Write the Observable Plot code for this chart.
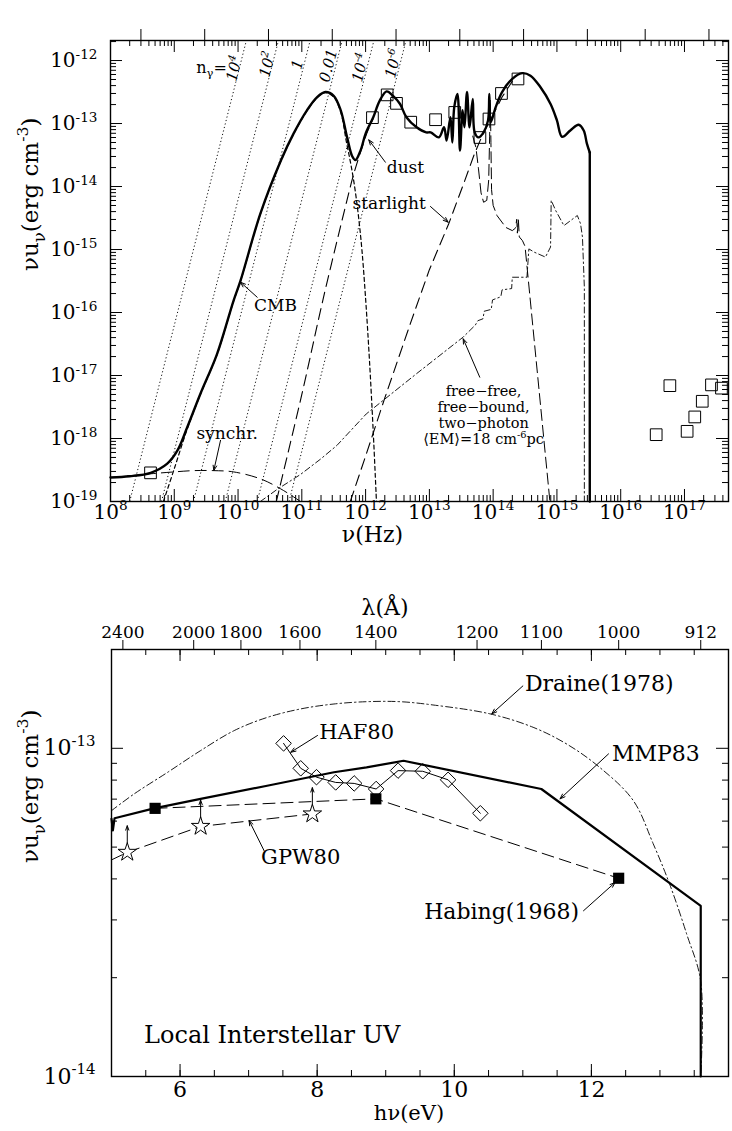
<!DOCTYPE html>
<html>
<head>
<meta charset="utf-8">
<script src="https://cdn.jsdelivr.net/npm/d3@7"></script>
<script src="https://cdn.jsdelivr.net/npm/@observablehq/plot@0.6"></script>
<style>
  html, body { margin: 0; padding: 0; background: #fff; }
  #chart svg { display: block; }
</style>
</head>
<body>
<div id="chart"></div>
<script>
// ================= TOP PANEL: interstellar radiation field =================
// pairs are [log10 ν (Hz), log10 νuν (erg cm^-3)]
const totalLog = [[8.00,-18.62],[8.30,-18.60],[8.63,-18.545],[8.89,-18.40],[9.05,-18.19],[9.20,-17.83],[9.41,-17.29],[9.67,-16.66],[9.93,-15.81],[10.04,-15.49],[10.35,-14.43],[10.67,-13.59],[10.87,-13.16],[11.08,-12.79],[11.24,-12.58],[11.37,-12.50],[11.50,-12.56],[11.61,-12.79],[11.71,-13.22],[11.79,-13.52],[11.84,-13.58],[11.92,-13.43],[12.00,-13.16],[12.12,-12.90],[12.22,-12.64],[12.33,-12.49],[12.43,-12.56],[12.54,-12.69],[12.64,-12.90],[12.80,-13.06],[12.95,-13.14],[13.02,-13.14],[13.15,-13.22],[13.23,-13.06],[13.27,-13.27],[13.33,-12.90],[13.36,-13.30],[13.39,-12.74],[13.44,-12.53],[13.48,-13.43],[13.52,-12.79],[13.55,-13.06],[13.59,-12.50],[13.63,-13.06],[13.68,-12.61],[13.71,-13.14],[13.77,-13.22],[13.85,-13.14],[13.92,-12.95],[13.94,-12.53],[13.96,-12.98],[14.04,-12.74],[14.14,-12.50],[14.30,-12.29],[14.455,-12.20],[14.585,-12.24],[14.74,-12.42],[14.90,-12.69],[15.00,-12.95],[15.08,-13.21],[15.21,-13.11],[15.34,-13.02],[15.42,-13.11],[15.47,-13.32],[15.515,-13.46],[15.515,-19.0]];
const cmbLog = [[8.83,-19.0],[9.00,-18.48],[9.20,-17.86],[9.41,-17.30],[9.67,-16.67],[9.93,-15.82],[10.04,-15.50],[10.35,-14.44],[10.67,-13.60],[10.87,-13.17],[11.08,-12.80],[11.24,-12.59],[11.37,-12.51],[11.50,-12.58],[11.61,-12.82],[11.70,-13.30],[11.76,-13.60],[11.82,-13.95],[11.88,-14.40],[11.94,-14.98],[12.00,-15.78],[12.06,-16.75],[12.12,-17.90],[12.17,-19.0]];
const dustRiseLog = [[10.60,-19.0],[11.00,-17.30],[11.34,-15.76],[11.70,-14.25],[11.80,-13.85],[11.88,-13.58],[11.96,-13.33],[12.04,-13.10],[12.12,-12.92]];
const dustTailLog = [[13.68,-13.20],[13.73,-13.38],[13.77,-13.72],[13.81,-14.10],[13.85,-14.25],[13.90,-14.22],[13.93,-13.90],[13.945,-13.20],[13.955,-12.62],[13.965,-13.30],[13.975,-14.05],[14.00,-14.30],[14.06,-14.46],[14.20,-14.65],[14.30,-14.70],[14.35,-14.66],[14.37,-14.52],[14.38,-14.74],[14.395,-14.52],[14.41,-14.80],[14.46,-14.86],[14.50,-14.95],[14.89,-19.0]];
const starlightLog = [[11.76,-19.0],[12.00,-18.28],[12.30,-17.36],[12.70,-16.18],[13.00,-15.32],[13.30,-14.60],[13.55,-13.92],[13.70,-13.50],[13.80,-13.26],[13.90,-13.05],[14.00,-12.86],[14.14,-12.58],[14.30,-12.33]];
const freeFreeLog = [[10.35,-19.0],[10.61,-18.81],[10.98,-18.57],[11.29,-18.33],[11.55,-18.11],[12.01,-17.61],[12.80,-16.97],[13.53,-16.39],[13.72,-16.20],[13.76,-16.13],[13.84,-16.10],[13.86,-15.98],[13.97,-15.95],[13.99,-15.80],[14.12,-15.75],[14.14,-15.64],[14.29,-15.62],[14.30,-15.44],[14.53,-15.44],[14.56,-14.99],[14.64,-15.04],[14.82,-15.12],[14.90,-14.96],[14.91,-14.22],[14.98,-14.38],[15.11,-14.62],[15.32,-14.46],[15.37,-14.59],[15.40,-14.80],[15.43,-15.60],[15.43,-19.0]];
const synchLog = [[8.00,-18.62],[8.63,-18.56],[9.00,-18.53],[9.30,-18.51],[9.62,-18.51],[9.93,-18.53],[10.35,-18.64],[10.67,-18.80],[10.98,-19.0]];

// observed points (open squares)
const obsNu = [4.24e8,1.28e12,2.18e12,3.05e12,5.1e12,1.25e13,2.5e13,6.2e13,8.6e13,1.35e14,2.45e14,3.6e16,5.9e16,1.1e17,1.45e17,1.9e17,2.65e17,3.8e17];
const obsU  = [2.85e-19,1.24e-13,2.85e-13,2.09e-13,1.05e-13,1.15e-13,1.5e-13,6.0e-14,1.18e-13,3.0e-13,5.1e-13,1.15e-18,6.9e-18,1.3e-18,2.2e-18,3.9e-18,7.1e-18,6.3e-18];

// photon occupation number lines (dotted), end points read at the frame edges
const nGammaLabels = ["10^{4}","10^{2}","1","0.01","10^{-4}","10^{-6}"];
const nGammaNuLow  = [2.0e8,6.3e8,2.0e9,6.3e9,2.0e10,6.3e10];
const nGammaNuHigh = [1.35e10,4.3e10,1.35e11,4.3e11,1.35e12,4.3e12];
const nGammaULow = 1e-19, nGammaUHigh = 2.08e-12;
const nGammaLabelLogNu = [9.944,10.462,10.932,11.418,11.92,12.437];
const nGammaLabelLogU  = [-12.127,-12.063,-12.063,-12.079,-12.111,-12.048];

// axes
const topXTicks = [1e8,1e9,1e10,1e11,1e12,1e13,1e14,1e15,1e16,1e17];
const topXTickLabels = ["10^{8}","10^{9}","10^{10}","10^{11}","10^{12}","10^{13}","10^{14}","10^{15}","10^{16}","10^{17}"];
const topYTicks = [1e-19,1e-18,1e-17,1e-16,1e-15,1e-14,1e-13,1e-12];
const topYTickLabels = ["10^{-19}","10^{-18}","10^{-17}","10^{-16}","10^{-15}","10^{-14}","10^{-13}","10^{-12}"];
const topWaveNu = [3e8,3e9,3e10,3e11,3e12,3e13,3e14,3e15,2.42e16,2.42e17];
const topWaveLabels = ["10^{2}cm","10cm","1cm","1mm","100μm","10μm","1μm","0.1μm","100eV","1 keV"];

// annotations
const topNoteText = ["dust","starlight","CMB","synchr."];
const topNoteLogNu = [12.625,12.37,10.587,9.83];
const topNoteLogU  = [-13.694,-14.275,-15.889,-17.925];
const ffNoteText = ["free−free,","free−bound,","two−photon","⟨EM⟩=18 cm^{-6}pc"];
const ffNoteLogNu = [13.85,13.85,13.85,13.85];
const ffNoteLogU = [-17.254,-17.508,-17.762,-18.016];
const topArrowsLog = [[12.31,-13.614,12.05,-13.259],[13.017,-14.317,13.295,-14.567],[10.30,-15.757,10.038,-15.519],[9.725,-18.03,9.62,-18.508],[13.79,-17.027,13.53,-16.417]];

// ================= BOTTOM PANEL: local interstellar UV =================
// pairs are [hν (eV), log10 νuν (erg cm^-3)]
const mmp83 = [[5.00,-13.215],[5.02,-13.25],[5.045,-13.213],[5.62,-13.183],[6.30,-13.154],[7.27,-13.114],[8.245,-13.073],[8.72,-13.058],[9.26,-13.038],[11.27,-13.124],[13.595,-13.48],[13.595,-14.0]];
const draine78 = [[5.00,-13.19],[5.33,-13.139],[5.82,-13.073],[6.30,-13.007],[6.79,-12.946],[7.27,-12.906],[7.76,-12.88],[8.245,-12.865],[8.72,-12.858],[9.21,-12.858],[9.69,-12.868],[10.52,-12.895],[11.15,-12.936],[11.64,-12.987],[12.12,-13.058],[12.61,-13.159],[12.90,-13.29],[13.14,-13.413],[13.39,-13.566],[13.595,-13.71],[13.595,-14.0]];
const habingEv = [5.636,8.856,12.398];
const habingLogU = [-13.183,-13.154,-13.396];
const gpwEv = [5.23,6.30,7.93];
const gpwLogU = [-13.317,-13.238,-13.20];
const gpwLineStart = [5.0,-13.34];
const gpwLimitBase = [-13.288,-13.212,-13.176];
const gpwLimitTip  = [-13.236,-13.158,-13.12];
const hafEv = [7.51,7.76,7.99,8.27,8.54,8.86,9.18,9.54,9.91,10.38];
const hafLogU = [-12.985,-13.061,-13.088,-13.104,-13.107,-13.124,-13.068,-13.07,-13.096,-13.198];

const uvXMajor = [6,8,10,12];
const uvXLabels = ["6","8","10","12"];
const uvXMinor = [5.5,6,6.5,7,7.5,8,8.5,9,9.5,10,10.5,11,11.5,12,12.5,13,13.5];
const uvYMajor = [1e-14,1e-13];
const uvYLabels = ["10^{-14}","10^{-13}"];
const uvYMinor = [2e-14,3e-14,4e-14,5e-14,6e-14,7e-14,8e-14,9e-14,2e-13];
const lambdaLabels = ["2400","2000","1800","1600","1400","1200","1100","1000","912"];
const lambdaEv = [5.166,6.199,6.888,7.749,8.856,10.332,11.271,12.398,13.595];

const uvNoteText = ["Draine(1978)","MMP83","HAF80","GPW80","Habing(1968)","Local Interstellar UV"];
const uvNoteEv = [11.03,12.30,8.03,7.76,10.69,5.475];
const uvNoteLogU = [-12.804,-13.017,-12.951,-13.332,-13.50,-13.876];
const uvNoteAnchor = ["start","start","start","middle","middle","start"];
const uvNoteSize = [22,22,21,21,22,24];
const uvArrows = [[11.0,-12.81,10.547,-12.895],[12.25,-13.017,11.543,-13.154],[8.005,-12.961,7.615,-13.012],[7.226,-13.312,7.007,-13.22],[11.885,-13.495,12.345,-13.409]];

// ================= drawing =================
const FONT = "'DejaVu Serif', 'Liberation Serif', serif";
const P = v => 10 ** v;
const LL = {x: d => P(d[0]), y: d => P(d[1])};

function logMinor(lo, hi, max) {
  const out = [];
  for (let e = lo; e <= hi; e++) for (let m = 2; m <= 9; m++) { const v = m * 10 ** e; if (v <= max) out.push(v); }
  return out;
}
const idx = a => a.map((_, i) => i);

// ---- top ----
const TW = 732, TH = 565, TMT = 40, TMB = 64, TML = 110, TMR = 4;
const ihT = TH - TMT - TMB, iwT = TW - TML - TMR;
const xMaxT = 4.9e17, yMaxT = 2.08e-12;
const topXMinor = logMinor(8, 17, xMaxT);
const topYMinor = logMinor(-19, -12, yMaxT);
const waveMap = new Map(topWaveNu.map((v, i) => [v, topWaveLabels[i]]));

const topPlot = Plot.plot({
  width: TW, height: TH, marginTop: TMT, marginBottom: TMB, marginLeft: TML, marginRight: TMR,
  style: {fontFamily: FONT, background: "white", color: "black"},
  x: {type: "log", domain: [1e8, xMaxT]},
  y: {type: "log", domain: [1e-19, yMaxT], axis: null},
  marks: [
    Plot.link(idx(nGammaNuLow), {x1: i => nGammaNuLow[i], y1: () => nGammaULow, x2: i => nGammaNuHigh[i], y2: () => nGammaUHigh, stroke: "#111", strokeWidth: 1, strokeDasharray: "1.2,2.4", clip: true}),
    Plot.line(synchLog, {...LL, strokeWidth: 1, strokeDasharray: "11,6", curve: "catmull-rom"}),
    Plot.line(freeFreeLog, {...LL, strokeWidth: 0.9, strokeDasharray: "6,3,1.5,3"}),
    Plot.line(cmbLog, {...LL, strokeWidth: 1.2, strokeDasharray: "4,3", curve: "catmull-rom"}),
    Plot.line(dustRiseLog, {...LL, strokeWidth: 1.1, strokeDasharray: "11,6", curve: "catmull-rom"}),
    Plot.line(dustTailLog, {...LL, strokeWidth: 1, strokeDasharray: "11,5"}),
    Plot.line(starlightLog, {...LL, strokeWidth: 1.1, strokeDasharray: "11,6"}),
    Plot.line(totalLog.slice(0, -1), {...LL, strokeWidth: 2.4, curve: "catmull-rom"}),
    Plot.line(totalLog.slice(-2), {...LL, strokeWidth: 2.4}),
    Plot.dot(idx(obsNu), {x: i => obsNu[i], y: i => obsU[i], symbol: "square", r: 6.6, stroke: "black", strokeWidth: 1, fill: "none"}),
    Plot.frame({strokeWidth: 1.4}),
    Plot.tickX(topXTicks, {x: d => d, insetTop: ihT - 12}),
    Plot.tickX(topXMinor, {x: d => d, insetTop: ihT - 6}),
    Plot.tickX(topXTicks, {x: d => d, insetBottom: ihT - 12}),
    Plot.tickX(topXMinor, {x: d => d, insetBottom: ihT - 6}),
    Plot.tickY(topYTicks, {y: d => d, insetRight: iwT - 12}),
    Plot.tickY(topYMinor, {y: d => d, insetRight: iwT - 6}),
    Plot.tickY(topYTicks, {y: d => d, insetLeft: iwT - 12}),
    Plot.tickY(topYMinor, {y: d => d, insetLeft: iwT - 6}),
    Plot.axisX({anchor: "top", ticks: topWaveNu, tickSize: 12, tickPadding: 3, tickFormat: d => waveMap.get(d), fontSize: 17, label: null}),
    Plot.text(idx(topXTicks), {x: i => topXTicks[i], frameAnchor: "bottom", dy: 17, text: i => topXTickLabels[i], fontSize: 20}),
    Plot.text(idx(topYTicks), {y: i => topYTicks[i], frameAnchor: "left", dx: -13, textAnchor: "end", text: i => topYTickLabels[i], fontSize: 20}),
    Plot.text(["ν(Hz)"], {frameAnchor: "bottom", dx: -47, dy: 40, fontSize: 22}),
    Plot.text(["νu_{ν}(erg cm^{-3})"], {frameAnchor: "left", dx: -80, rotate: -90, fontSize: 23}),
    Plot.text(idx(nGammaLabels), {x: i => P(nGammaLabelLogNu[i]), y: i => P(nGammaLabelLogU[i]), text: i => nGammaLabels[i], rotate: -76, fontSize: 15, fontStyle: "italic"}),
    Plot.text(["n_{γ}="], {x: () => P(9.584), y: () => P(-12.111), fontSize: 16}),
    Plot.text(idx(topNoteText), {x: i => P(topNoteLogNu[i]), y: i => P(topNoteLogU[i]), text: i => topNoteText[i], fontSize: 17}),
    Plot.text(idx(ffNoteText), {x: i => P(ffNoteLogNu[i]), y: i => P(ffNoteLogU[i]), text: i => ffNoteText[i], fontSize: 14.5}),
    Plot.arrow(topArrowsLog, {x1: d => P(d[0]), y1: d => P(d[1]), x2: d => P(d[2]), y2: d => P(d[3]), strokeWidth: 1, headLength: 8, headAngle: 40})
  ]
});

// ---- bottom ----
const BW = 732, BH = 566, BMT = 84, BMB = 55, BML = 111, BMR = 4;
const ihB = BH - BMT - BMB, iwB = BW - BML - BMR;
const lambdaMap = new Map(lambdaEv.map((v, i) => [v, lambdaLabels[i]]));
const notesStart = idx(uvNoteText).filter(i => uvNoteAnchor[i] === "start");
const notesMiddle = idx(uvNoteText).filter(i => uvNoteAnchor[i] === "middle");

const uvPlot = Plot.plot({
  width: BW, height: BH, marginTop: BMT, marginBottom: BMB, marginLeft: BML, marginRight: BMR,
  style: {fontFamily: FONT, background: "white", color: "black"},
  x: {domain: [5, 14]},
  y: {type: "log", domain: [1e-14, 2e-13], axis: null},
  marks: [
    Plot.line(draine78, {x: d => d[0], y: d => P(d[1]), strokeWidth: 0.9, strokeDasharray: "7,3,1.5,3", curve: "catmull-rom"}),
    Plot.line(idx(habingEv), {x: i => habingEv[i], y: i => P(habingLogU[i]), strokeWidth: 1, strokeDasharray: "12,6"}),
    Plot.line([gpwLineStart, ...gpwEv.map((e, i) => [e, gpwLogU[i]])], {x: d => d[0], y: d => P(d[1]), strokeWidth: 1, strokeDasharray: "12,6"}),
    Plot.line(idx(hafEv), {x: i => hafEv[i], y: i => P(hafLogU[i]), strokeWidth: 1}),
    Plot.line(mmp83, {x: d => d[0], y: d => P(d[1]), strokeWidth: 2.2}),
    Plot.dot(idx(hafEv), {x: i => hafEv[i], y: i => P(hafLogU[i]), symbol: "diamond2", r: 7, stroke: "black", strokeWidth: 1, fill: "none"}),
    Plot.arrow(idx(gpwEv), {x1: i => gpwEv[i], y1: i => P(gpwLimitBase[i]), x2: i => gpwEv[i], y2: i => P(gpwLimitTip[i]), strokeWidth: 1, headLength: 7, headAngle: 40}),
    Plot.dot(idx(gpwEv), {x: i => gpwEv[i], y: i => P(gpwLogU[i]), symbol: "star", r: 5.8, stroke: "black", strokeWidth: 1, fill: "white"}),
    Plot.dot(idx(habingEv), {x: i => habingEv[i], y: i => P(habingLogU[i]), symbol: "square", r: 6.3, fill: "black", stroke: "none"}),
    Plot.frame({strokeWidth: 1.4}),
    Plot.tickX(uvXMajor, {x: d => d, insetTop: ihB - 12}),
    Plot.tickX(uvXMinor, {x: d => d, insetTop: ihB - 6}),
    Plot.tickX(uvXMajor, {x: d => d, insetBottom: ihB - 12}),
    Plot.tickX(uvXMinor, {x: d => d, insetBottom: ihB - 6}),
    Plot.tickY(uvYMajor, {y: d => d, insetRight: iwB - 12}),
    Plot.tickY(uvYMinor, {y: d => d, insetRight: iwB - 6}),
    Plot.tickY(uvYMajor, {y: d => d, insetLeft: iwB - 12}),
    Plot.tickY(uvYMinor, {y: d => d, insetLeft: iwB - 6}),
    Plot.axisX({anchor: "top", ticks: lambdaEv, tickSize: 10, tickPadding: 2, tickFormat: d => lambdaMap.get(d), fontSize: 17, label: null}),
    Plot.text(idx(uvXMajor), {x: i => uvXMajor[i], frameAnchor: "bottom", dy: 20, text: i => uvXLabels[i], fontSize: 22}),
    Plot.text(idx(uvYMajor), {y: i => uvYMajor[i], frameAnchor: "left", dx: -16, textAnchor: "end", text: i => uvYLabels[i], fontSize: 22}),
    Plot.text(["λ(Å)"], {frameAnchor: "top", dx: -35, dy: -50, fontSize: 22}),
    Plot.text(["hν(eV)"], {frameAnchor: "bottom", dx: -11, dy: 43, fontSize: 21}),
    Plot.text(["νu_{ν}(erg cm^{-3})"], {frameAnchor: "left", dx: -81, rotate: -90, fontSize: 23}),
    Plot.text(notesStart, {x: i => uvNoteEv[i], y: i => P(uvNoteLogU[i]), text: i => uvNoteText[i], textAnchor: "start", fontSize: i => uvNoteSize[i]}),
    Plot.text(notesMiddle, {x: i => uvNoteEv[i], y: i => P(uvNoteLogU[i]), text: i => uvNoteText[i], textAnchor: "middle", fontSize: i => uvNoteSize[i]}),
    Plot.arrow(uvArrows, {x1: d => d[0], y1: d => P(d[1]), x2: d => d[2], y2: d => P(d[3]), strokeWidth: 1, headLength: 8, headAngle: 40})
  ]
});

const chart = document.getElementById("chart");
chart.append(topPlot, uvPlot);

// turn ^{..} and _{..} into real superscript / subscript tspans
function richify(root) {
  root.querySelectorAll("text").forEach(t => {
    const s = t.textContent;
    if (!/[\^_]\{/.test(s) || t.children.length) return;
    const fs = parseFloat(getComputedStyle(t).fontSize) || 16;
    t.textContent = "";
    const re = /([\^_])\{([^}]*)\}/g;
    let last = 0, cur = 0, m;
    const add = (txt, target, scale) => {
      if (!txt) return;
      const ts = document.createElementNS("http://www.w3.org/2000/svg", "tspan");
      ts.textContent = txt;
      const dy = target - cur;
      if (dy) ts.setAttribute("dy", dy.toFixed(2));
      if (scale !== 1) ts.setAttribute("font-size", (fs * scale).toFixed(2));
      t.appendChild(ts);
      cur = target;
    };
    while ((m = re.exec(s))) {
      add(s.slice(last, m.index), 0, 1);
      if (m[1] === "^") add(m[2], -0.42 * fs, 0.68); else add(m[2], 0.3 * fs, 0.72);
      last = re.lastIndex;
    }
    add(s.slice(last), 0, 1);
  });
}
richify(topPlot);
richify(uvPlot);
</script>
</body>
</html>
